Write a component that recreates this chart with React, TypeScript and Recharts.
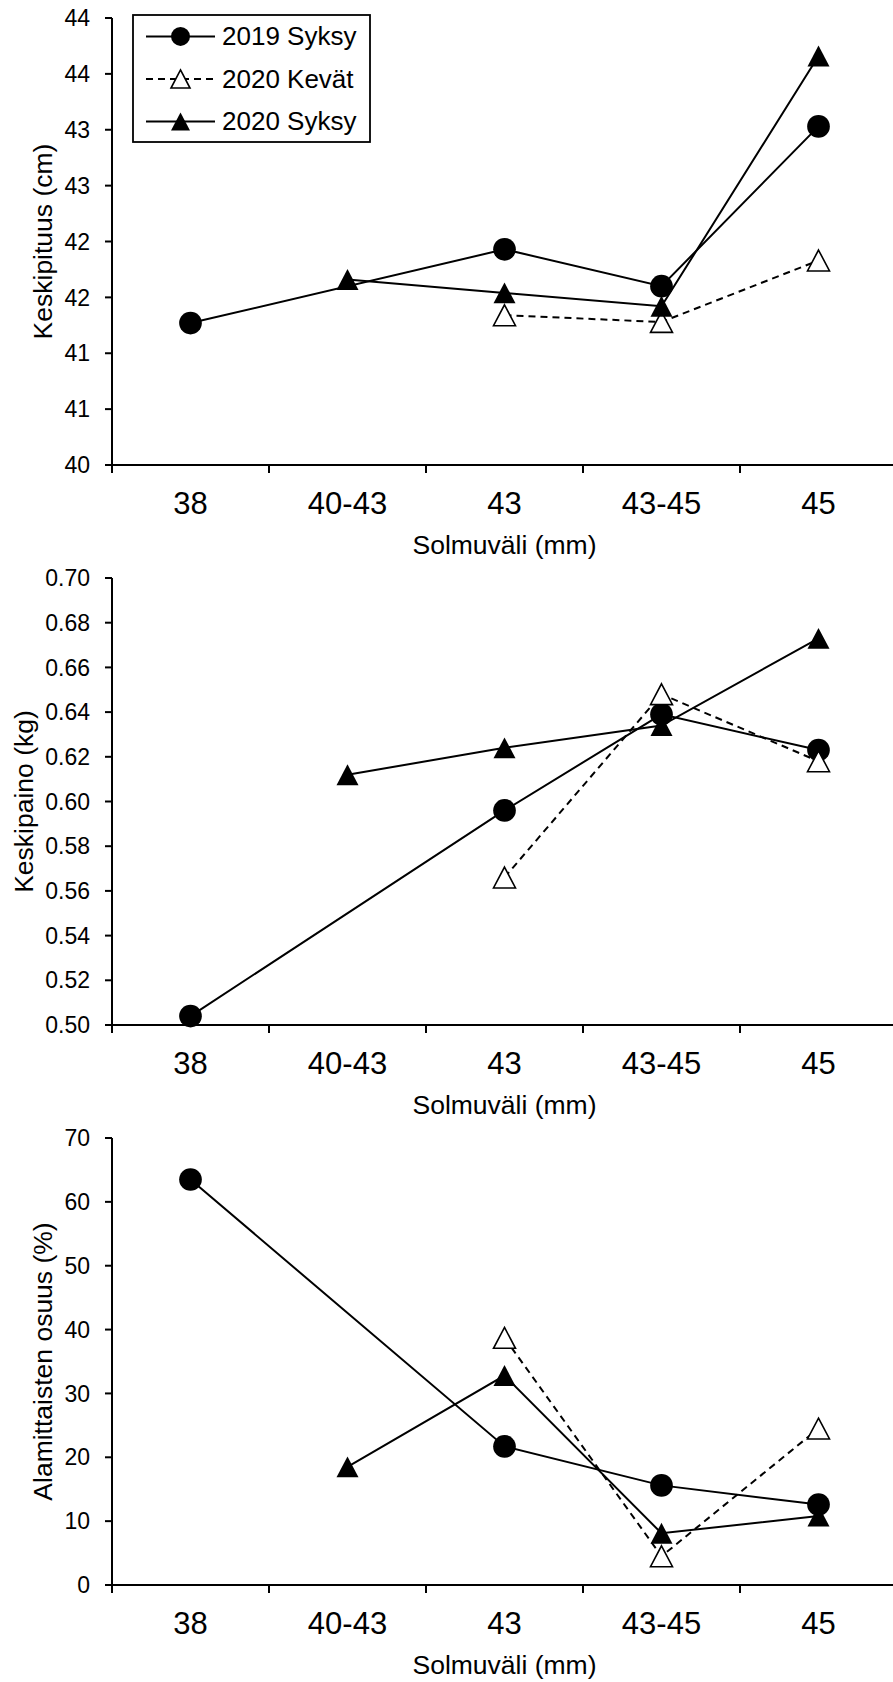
import { Label, Legend, Line, LineChart, XAxis, YAxis } from "recharts";

const categories = ["38", "40-43", "43", "43-45", "45"];

// Keskipituus (cm)
const pituus2019Syksy = [41.27, null, 41.93, 41.6, 43.03];
const pituus2020Kevat = [null, null, 41.34, 41.28, 41.83];
const pituus2020Syksy = [null, 41.66, 41.54, 41.42, 43.66];
const pituusTicks = [40, 40.5, 41, 41.5, 42, 42.5, 43, 43.5, 44];

// Keskipaino (kg)
const paino2019Syksy = [0.504, null, 0.596, 0.639, 0.623];
const paino2020Kevat = [null, null, 0.566, 0.648, 0.618];
const paino2020Syksy = [null, 0.612, 0.624, 0.634, 0.673];
const painoTicks = [0.5, 0.52, 0.54, 0.56, 0.58, 0.6, 0.62, 0.64, 0.66, 0.68, 0.7];

// Alamittaisten osuus (%)
const alamitta2019Syksy = [63.5, null, 21.7, 15.6, 12.6];
const alamitta2020Kevat = [null, null, 38.7, 4.5, 24.5];
const alamitta2020Syksy = [null, 18.5, 32.8, 8.1, 10.8];
const alamittaTicks = [0, 10, 20, 30, 40, 50, 60, 70];

const series = [
  { key: "s2019", name: "2019 Syksy", marker: "circle", dash: undefined },
  { key: "k2020", name: "2020 Kevät", marker: "open", dash: "7 5" },
  { key: "s2020", name: "2020 Syksy", marker: "filled", dash: undefined },
];

const CHART_W = 897;
const CHART_H = 560;
const Y_AXIS_W = 112;
const X_AXIS_H = 95;
const HALF_BAND = (CHART_W - Y_AXIS_W) / categories.length / 2;
const FONT = "'Liberation Sans', Arial, Helvetica, sans-serif";

function toRows(a: (number | null)[], b: (number | null)[], c: (number | null)[]) {
  return categories.map((cat, i) => ({ cat, s2019: a[i], k2020: b[i], s2020: c[i] }));
}

function Marker({ kind, cx, cy, size }: { kind: string; cx: number; cy: number; size: number }) {
  if (kind === "circle") return <circle cx={cx} cy={cy} r={size / 2} fill="#000" />;
  const w = size;
  const h = size * 0.95;
  const pts = `${cx},${cy - h / 2} ${cx + w / 2},${cy + h / 2} ${cx - w / 2},${cy + h / 2}`;
  if (kind === "filled") return <polygon points={pts} fill="#000" />;
  return <polygon points={pts} fill="#fff" stroke="#000" strokeWidth={1.6} />;
}

function dotFor(kind: string) {
  return (props: any) => {
    const { cx, cy, value, index } = props;
    if (value == null || cx == null || cy == null || Number.isNaN(cy)) return <g key={`e-${index}`} />;
    return (
      <g key={`d-${index}`}>
        <Marker kind={kind} cx={cx} cy={cy} size={kind === "circle" ? 22.7 : 22} />
      </g>
    );
  };
}

function CategoryTick(props: any) {
  const { x, y, payload } = props;
  return (
    <g>
      <line x1={x - HALF_BAND} x2={x - HALF_BAND} y1={y} y2={y + 8} stroke="#000" strokeWidth={2} />
      <text x={x} y={y + 49} textAnchor="middle" fontSize={31} fill="#000" fontFamily={FONT}>
        {payload.value}
      </text>
    </g>
  );
}

function LegendBox() {
  const rows = [22.4, 65, 107.4];
  return (
    <svg width={240} height={130} style={{ display: "block", fontFamily: FONT }}>
      <rect x={1} y={1} width={237} height={127} fill="#fff" stroke="#000" strokeWidth={1.8} />
      {series.map((s, i) => (
        <g key={s.key}>
          <line x1={14} x2={83} y1={rows[i]} y2={rows[i]} stroke="#000" strokeWidth={2} strokeDasharray={s.dash} />
          <Marker kind={s.marker} cx={48.5} cy={rows[i]} size={19} />
          <text x={90} y={rows[i]} dominantBaseline="central" fontSize={26} fill="#000">
            {s.name}
          </text>
        </g>
      ))}
    </svg>
  );
}

function Panel({
  data,
  domain,
  ticks,
  format,
  title,
  titleOffset,
  showLegend,
}: {
  data: Record<string, string | number | null>[];
  domain: [number, number];
  ticks: number[];
  format: (v: number) => string;
  title: string;
  titleOffset: number;
  showLegend?: boolean;
}) {
  return (
    <LineChart width={CHART_W} height={CHART_H} data={data} margin={{ top: 18, right: 0, left: 0, bottom: 0 }}>
      <XAxis
        dataKey="cat"
        height={X_AXIS_H}
        padding={{ left: HALF_BAND, right: HALF_BAND }}
        axisLine={{ stroke: "#000", strokeWidth: 2 }}
        tickLine={false}
        tickSize={0}
        tickMargin={0}
        interval={0}
        tick={<CategoryTick />}
      >
        <Label value="Solmuväli (mm)" position="insideBottom" offset={6} fontSize={26.5} fill="#000" />
      </XAxis>
      <YAxis
        type="number"
        width={Y_AXIS_W}
        domain={domain}
        ticks={ticks}
        interval={0}
        tickFormatter={format}
        axisLine={{ stroke: "#000", strokeWidth: 2 }}
        tickLine={{ stroke: "#000", strokeWidth: 2 }}
        tickSize={7}
        tickMargin={15}
        tick={{ fill: "#000", fontSize: 23 }}
      >
        <Label
          value={title}
          angle={-90}
          position="insideLeft"
          offset={titleOffset}
          fontSize={26.5}
          fill="#000"
          style={{ textAnchor: "middle" }}
        />
      </YAxis>
      {showLegend && (
        <Legend
          layout="vertical"
          verticalAlign="middle"
          align="center"
          content={<LegendBox />}
          wrapperStyle={{ top: 14, left: 132, width: 240, height: 130 }}
        />
      )}
      {series.map((s) => (
        <Line
          key={s.key}
          dataKey={s.key}
          name={s.name}
          type="linear"
          stroke="#000"
          strokeWidth={2}
          strokeDasharray={s.dash}
          connectNulls
          dot={dotFor(s.marker)}
          activeDot={false}
          isAnimationActive={false}
        />
      ))}
    </LineChart>
  );
}

export default function App() {
  return (
    <div
      style={{
        position: "absolute",
        top: 0,
        left: 0,
        width: 893,
        height: 1682,
        overflow: "hidden",
        background: "#fff",
        fontFamily: FONT,
      }}
    >
      <Panel
        data={toRows(pituus2019Syksy, pituus2020Kevat, pituus2020Syksy)}
        domain={[40, 44]}
        ticks={pituusTicks}
        format={(v) => String(Math.round(v))}
        title="Keskipituus (cm)"
        titleOffset={42.5}
        showLegend
      />
      <Panel
        data={toRows(paino2019Syksy, paino2020Kevat, paino2020Syksy)}
        domain={[0.5, 0.7]}
        ticks={painoTicks}
        format={(v) => v.toFixed(2)}
        title="Keskipaino (kg)"
        titleOffset={24}
      />
      <Panel
        data={toRows(alamitta2019Syksy, alamitta2020Kevat, alamitta2020Syksy)}
        domain={[0, 70]}
        ticks={alamittaTicks}
        format={(v) => String(v)}
        title="Alamittaisten osuus (%)"
        titleOffset={42.5}
      />
    </div>
  );
}
